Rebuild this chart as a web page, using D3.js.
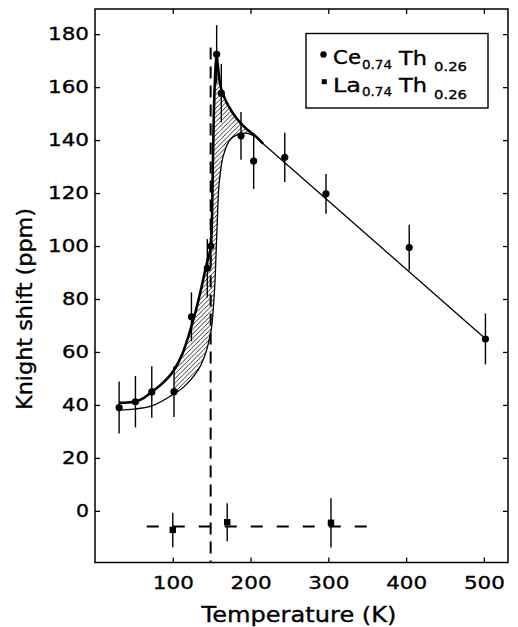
<!DOCTYPE html>
<html><head><meta charset="utf-8">
<script src="https://cdn.jsdelivr.net/npm/d3@7"></script>
<style>
html,body{margin:0;padding:0;background:#fff;}
svg{display:block;font-family:"DejaVu Sans",sans-serif;}
svg text{stroke:#000;stroke-width:0.35px;}
</style></head><body>
<svg id="chart" width="518" height="627"></svg>
<script>
// ---- data ----
const ceTemp  = [31, 52, 73, 101.6, 124, 144.4, 149, 156.4, 162.4, 187.7, 204, 244, 297, 404, 502];
const ceShift = [39, 41.2, 44.9, 45, 73.3, 91.6, 100, 172.4, 157.7, 141.6, 132.1, 133.5, 119.7, 99.4, 64.9];
const ceErr   = [9.8, 9.7, 9.7, 9.6, 9.2, 11, 7, 11, 11, 9, 10.5, 9.3, 7.5, 8.6, 9.6];

const laTemp  = [100, 170, 303.4];
const laShift = [-7.2, -4.3, -4.5];
const laErr   = [6.5, 7.2, 9.3];

// thick fitted curve (rising part, then decaying part)
const fitRiseT = [31, 42, 52, 63, 73, 88, 101.6, 112, 120, 130, 137, 142.3, 146, 149, 150.5, 151.5, 152.8, 154.5, 156.4];
const fitRiseY = [40.8, 40.9, 41.3, 42.7, 44.9, 48.5, 53.2, 59, 65.8, 76, 84.5, 91.6, 96, 100, 112, 130, 150, 165, 172.5];
const fitDecayT = [156.4, 160.5, 166, 173.5, 181, 188.5, 196, 206, 216];
const fitDecayY = [172.5, 161.8, 156.3, 152, 148.6, 146, 143.9, 141.6, 138.7];

// thin lower curve
const lowerT = [31, 50, 73, 100.7, 115, 126.4, 136, 143.6, 147.8, 150, 152.5, 154.5, 156, 157.3, 158.5, 160.5, 163, 167, 172, 180, 187, 193, 200, 206];
const lowerY = [38.1, 38.4, 39.6, 44, 47, 50.7, 55, 60.8, 66, 69.5, 78, 88, 100, 110, 119, 126, 131.5, 136, 139.5, 141.6, 142.5, 142.6, 142.2, 141.3];

// thin straight line at high temperature
const lineT = [206, 502];
const lineY = [141.3, 65];

// dashed reference lines
const laRefT = [66.5, 351.3];
const laRefY = [-5.9, -5.9];
const tcT = [148.7, 148.7];
const tcY = [175, -19.5];

const xTicks = [100, 200, 300, 400, 500];
const yTicks = [0, 20, 40, 60, 80, 100, 120, 140, 160, 180];
const xLabel = "Temperature (K)";
const yLabel = "Knight shift (ppm)";

// ---- layout ----
const L = 95, R = 508, T = 9, B = 562.5;
const svg = d3.select("#chart");
const x = d3.scaleLinear().domain([0, 531]).range([L, R]);
const y = d3.scaleLinear().domain([-19.5, 189.5]).range([B, T]);

// hatch pattern
const defs = svg.append("defs");
const pat = defs.append("pattern").attr("id", "hatch")
  .attr("patternUnits", "userSpaceOnUse").attr("width", 4.5).attr("height", 4.5);
pat.append("path").attr("d", "M-1,1 l2,-2 M0,4.5 l4.5,-4.5 M3.5,5.5 l2,-2")
  .attr("stroke", "#000").attr("stroke-width", 0.8);
defs.append("clipPath").attr("id", "hclip").append("rect")
  .attr("x", x(101.6)).attr("y", T).attr("width", x(230) - x(101.6)).attr("height", B - T);

const line = d3.line().x(d => x(d[0])).y(d => y(d[1])).curve(d3.curveMonotoneX);
const straight = d3.line().x(d => x(d[0])).y(d => y(d[1]));

const rise = d3.zip(fitRiseT, fitRiseY);
const decay = d3.zip(fitDecayT, fitDecayY);
const lower = d3.zip(lowerT, lowerY);

// hatched region between curves
const hatchPath = line(rise) + line(decay).replace(/^M/, "L") + line(lower.slice().reverse()).replace(/^M/, "L") + "Z";
svg.append("path").attr("d", hatchPath).attr("fill", "url(#hatch)")
  .attr("stroke", "none").attr("clip-path", "url(#hclip)");

// axes (inward ticks)
const ax = svg.append("g");
const gb = ax.append("g").attr("transform", `translate(0,${B})`)
  .call(d3.axisBottom(x).tickValues(xTicks).tickSizeInner(-5).tickSizeOuter(0).tickPadding(13.5));
const gl = ax.append("g").attr("transform", `translate(${L},0)`)
  .call(d3.axisLeft(y).tickValues(yTicks).tickSizeInner(-5).tickSizeOuter(0).tickPadding(6));
ax.append("g").attr("transform", `translate(0,${T})`)
  .call(d3.axisTop(x).tickValues(xTicks).tickSizeInner(-5).tickSizeOuter(0).tickFormat(""));
ax.append("g").attr("transform", `translate(${R},0)`)
  .call(d3.axisRight(y).tickValues(yTicks).tickSizeInner(-5).tickSizeOuter(0).tickFormat(""));
ax.selectAll("g").attr("font-family", "DejaVu Sans").attr("font-size", 18);
ax.selectAll(".domain").remove();
ax.selectAll(".tick line").attr("stroke", "#000").attr("stroke-width", 1.3);
ax.selectAll(".tick text").attr("fill", "#000")
  .attr("textLength", function() { return this.textContent.length * 14 - 1; })
  .attr("lengthAdjust", "spacingAndGlyphs");

// frame
svg.append("rect").attr("x", L).attr("y", T).attr("width", R - L).attr("height", B - T)
  .attr("fill", "none").attr("stroke", "#000").attr("stroke-width", 1.5);

// curves
svg.append("path").attr("d", line(lower)).attr("fill", "none").attr("stroke", "#000").attr("stroke-width", 1.3);
svg.append("path").attr("d", straight(d3.zip(lineT, lineY))).attr("fill", "none").attr("stroke", "#000").attr("stroke-width", 1.3);
svg.append("path").attr("d", line(rise)).attr("fill", "none").attr("stroke", "#000").attr("stroke-width", 2.6).attr("stroke-linejoin", "round");
svg.append("path").attr("d", line(decay)).attr("fill", "none").attr("stroke", "#000").attr("stroke-width", 2.6).attr("stroke-linejoin", "round");

// dashed lines
svg.append("path").attr("d", straight(d3.zip(tcT, tcY))).attr("fill", "none")
  .attr("stroke", "#000").attr("stroke-width", 2).attr("stroke-dasharray", "12,7");
svg.append("path").attr("d", straight(d3.zip(laRefT, laRefY))).attr("fill", "none")
  .attr("stroke", "#000").attr("stroke-width", 2).attr("stroke-dasharray", "12,14");

// error bars
const ce = d3.range(ceTemp.length).map(i => ({t: ceTemp[i], v: ceShift[i], e: ceErr[i]}));
const la = d3.range(laTemp.length).map(i => ({t: laTemp[i], v: laShift[i], e: laErr[i]}));
svg.append("g").selectAll("line").data(ce.concat(la)).join("line")
  .attr("x1", d => x(d.t)).attr("x2", d => x(d.t))
  .attr("y1", d => y(d.v + d.e)).attr("y2", d => y(d.v - d.e))
  .attr("stroke", "#000").attr("stroke-width", 1.4);

// markers
svg.append("g").selectAll("circle").data(ce).join("circle")
  .attr("cx", d => x(d.t)).attr("cy", d => y(d.v)).attr("r", 3.6).attr("fill", "#000");
svg.append("g").selectAll("rect").data(la).join("rect")
  .attr("x", d => x(d.t) - 3.2).attr("y", d => y(d.v) - 3.2).attr("width", 6.4).attr("height", 6.4).attr("fill", "#000");

// axis titles
svg.append("text").attr("x", 299).attr("y", 621.5).attr("text-anchor", "middle")
  .attr("font-size", 22).attr("textLength", 195).attr("lengthAdjust", "spacingAndGlyphs").text(xLabel);
svg.append("text").attr("transform", "translate(32,309) rotate(-90)").attr("text-anchor", "middle")
  .attr("font-size", 22).attr("textLength", 202).attr("lengthAdjust", "spacingAndGlyphs").text(yLabel);

// legend
const lg = svg.append("g");
lg.append("rect").attr("x", 306).attr("y", 33.5).attr("width", 182).attr("height", 74.5)
  .attr("fill", "#fff").attr("stroke", "#000").attr("stroke-width", 1.4);
lg.append("circle").attr("cx", 323.5).attr("cy", 54.5).attr("r", 3.2).attr("fill", "#000");
lg.append("rect").attr("x", 321.8).attr("y", 79.2).attr("width", 5).attr("height", 5).attr("fill", "#000");
const legItems = [
  {a: "Ce", s1: "0.74", yb: 64, ys1: 68.5, ys2: 70.5},
  {a: "La", s1: "0.74", yb: 91.5, ys1: 96, ys2: 98.5}
];
legItems.forEach(it => {
  lg.append("text").attr("x", 333).attr("y", it.yb).attr("font-size", 19)
    .attr("textLength", 28).attr("lengthAdjust", "spacingAndGlyphs").text(it.a);
  lg.append("text").attr("x", 362).attr("y", it.ys1).attr("font-size", 13)
    .attr("textLength", 30).attr("lengthAdjust", "spacingAndGlyphs").text(it.s1);
  lg.append("text").attr("x", 399).attr("y", it.yb + 0.5).attr("font-size", 19)
    .attr("textLength", 28).attr("lengthAdjust", "spacingAndGlyphs").text("Th");
  lg.append("text").attr("x", 434).attr("y", it.ys2).attr("font-size", 13)
    .attr("textLength", 33).attr("lengthAdjust", "spacingAndGlyphs").text("0.26");
});
</script>
</body></html>
